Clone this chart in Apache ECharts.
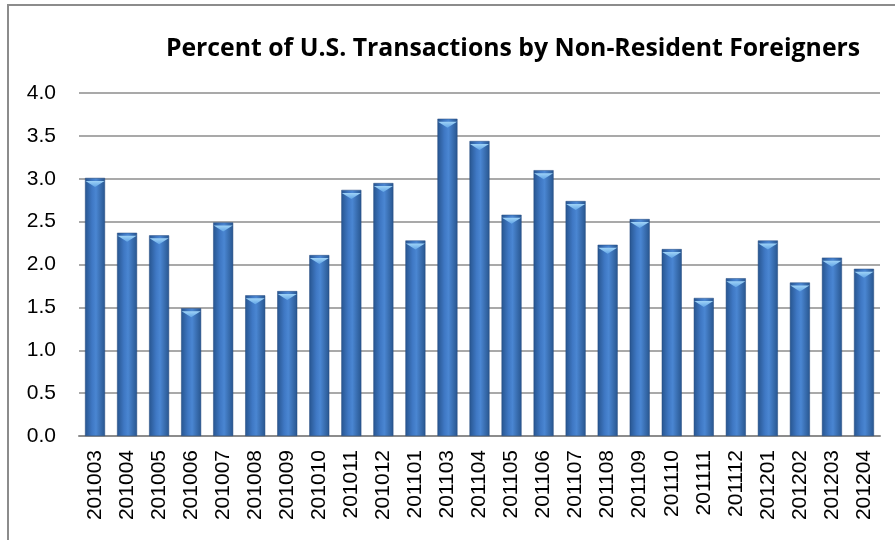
<!DOCTYPE html>
<html>
<head>
<meta charset="utf-8">
<script src="https://cdn.jsdelivr.net/npm/echarts@6/dist/echarts.min.js"></script>
<style>
  html, body { margin: 0; padding: 0; background: #fff; }
  #chart { width: 895px; height: 540px; }
</style>
</head>
<body>
<div id="chart"></div>
<script>
var months = ['201003', '201004', '201005', '201006', '201007', '201008', '201009', '201010',
    '201011', '201012', '201101', '201103', '201104', '201105', '201106', '201107', '201108',
    '201109', '201110', '201111', '201112', '201201', '201202', '201203', '201204'];
var pct = [3.01, 2.37, 2.34, 1.49, 2.49, 1.64, 1.69, 2.11, 2.87, 2.95, 2.28, 3.70, 3.44,
    2.58, 3.10, 2.74, 2.23, 2.53, 2.18, 1.61, 1.84, 2.28, 1.79, 2.08, 1.95];
var yTicks = [0, 0.5, 1, 1.5, 2, 2.5, 3, 3.5, 4];

var myChart = echarts.init(document.getElementById('chart'));

// cylinder-ish shading like the old Excel bars
var barFill = new echarts.graphic.LinearGradient(0, 0, 1, 0, [
    { offset: 0, color: '#27558f' },
    { offset: 0.35, color: '#3f78c4' },
    { offset: 0.55, color: '#4a86d2' },
    { offset: 1, color: '#28568f' }
]);
var capFill = new echarts.graphic.LinearGradient(0, 0, 0, 1, [
    { offset: 0, color: '#9fd3f7' },
    { offset: 1, color: '#62a5e6' }
]);

var option = {
    animation: false,
    title: {
        text: 'Percent of U.S. Transactions by Non-Resident Foreigners',
        left: 508,
        textAlign: 'center',
        top: 31,
        textStyle: {
            fontFamily: 'Open Sans',
            fontWeight: 'bold',
            fontSize: 24.8,
            color: '#000'
        }
    },
    graphic: [{
        type: 'rect',
        shape: { x: 8, y: 5, width: 900, height: 560 },
        style: { fill: 'none', stroke: '#8c8c8c', lineWidth: 2 },
        silent: true
    }],
    grid: {
        left: 79,
        right: 15,
        top: 93,
        bottom: 104
    },
    xAxis: {
        type: 'category',
        data: months,
        axisTick: { show: false },
        axisLine: { lineStyle: { color: '#8c8c8c', width: 2 } },
        axisLabel: {
            rotate: 90,
            interval: 0,
            margin: 14,
            color: '#000',
            fontFamily: 'Liberation Sans',
            fontSize: 21
        }
    },
    yAxis: {
        type: 'value',
        min: yTicks[0],
        max: yTicks[yTicks.length - 1],
        interval: 0.5,
        axisLine: { show: false },
        axisTick: { show: false },
        axisLabel: {
            margin: 23,
            color: '#000',
            fontFamily: 'Liberation Sans',
            fontSize: 21,
            formatter: function (v) { return v.toFixed(1); }
        },
        splitLine: { lineStyle: { color: '#8c8c8c', width: 1.5 } }
    },
    series: [{
        type: 'bar',
        data: pct,
        barWidth: 20,
        barGap: '-100%',
        itemStyle: {
            color: barFill,
            borderColor: '#22497f',
            borderWidth: 0.5
        }
    }, {
        type: 'pictorialBar',
        data: pct,
        barWidth: 20,
        barGap: '-100%',
        symbol: 'path://M0,0 L20,0 L10,7 Z',
        symbolSize: [19, 6],
        symbolPosition: 'end',
        symbolOffset: [0, '50%'],
        itemStyle: { color: capFill },
        z: 3
    }]
};
myChart.setOption(option);
</script>
</body>
</html>
